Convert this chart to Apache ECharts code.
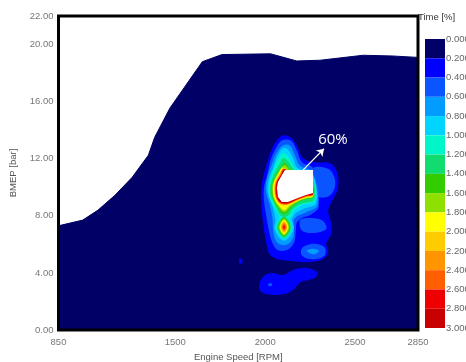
<!DOCTYPE html>
<html>
<head>
<meta charset="utf-8">
<script src="https://cdn.jsdelivr.net/npm/echarts@6/dist/echarts.min.js"></script>
<style>
  html, body { margin: 0; padding: 0; background: #fff; }
  #chart { width: 466px; height: 362px; }
</style>
</head>
<body>
<div id="chart"></div>
<script>
// axis ticks
const xTicks = [850, 1500, 2000, 2500, 2850];
const yTicks = [0, 4, 8, 12, 16, 20, 22];

// colour scale, Time [%]
const levels = [0, 0.2, 0.4, 0.6, 0.8, 1.0, 1.2, 1.4, 1.6, 1.8, 2.0, 2.2, 2.4, 2.6, 2.8, 3.0];
const levelColors = ['#000066', '#0000ff', '#0a55ff', '#009cff', '#00d4ff', '#00f5c8', '#10dc70',
  '#33cc00', '#8ee000', '#ffff00', '#ffcc00', '#ff9500', '#ff5f00', '#ee0000', '#c80000'];

// full load curve (upper limit of the map) [rpm, bar]
const fullLoad = [[850, 7.3], [985, 7.7], [1070, 8.4], [1165, 9.45], [1260, 10.7], [1350, 12.25],
  [1385, 13.5], [1470, 15.55], [1650, 18.8], [1760, 19.3], [2030, 19.35], [2175, 18.85],
  [2305, 18.9], [2545, 19.25], [2705, 19.2], [2850, 19.1]];

// contour outlines [rpm, bar]
const c02Main = [[2090, 13.6], [2140, 13.5], [2175, 12.95], [2210, 12.05], [2275, 11.75], [2360, 11.7],
  [2400, 11.05], [2405, 9.95], [2375, 9.1], [2350, 8.4], [2365, 7.55], [2365, 6.65], [2340, 6.1],
  [2350, 5.4], [2310, 4.9], [2220, 4.75], [2140, 4.85], [2070, 4.95], [2025, 5.3], [2005, 6.15],
  [1990, 7.35], [1978, 8.75], [1978, 9.95], [1990, 10.85], [2015, 11.9], [2045, 12.9]];
const c02Low = [[1970, 3.35], [2000, 3.85], [2040, 4.0], [2100, 3.85], [2155, 4.2], [2230, 4.35],
  [2290, 4.05], [2275, 3.65], [2195, 3.35], [2155, 2.8], [2100, 2.5], [2010, 2.5], [1970, 2.8]];
const c02Dot = [[1855, 5.0], [1870, 4.95], [1872, 4.7], [1857, 4.65]];
const c04Main = [[2095, 13.3], [2145, 13.25], [2175, 12.6], [2205, 11.75], [2265, 11.35], [2298, 8.65],
  [2250, 8.05], [2205, 7.85], [2175, 7.5], [2170, 6.85], [2160, 6.1], [2120, 5.6], [2070, 5.6],
  [2040, 6.1], [2020, 7.0], [2005, 8.05], [1993, 9.1], [1993, 9.95], [2010, 10.8], [2030, 11.9], [2060, 12.75]];
const c04LobeA = [[2266, 11.3], [2350, 11.3], [2385, 10.7], [2385, 9.9], [2350, 9.35], [2290, 9.4]];
const c04LobeB = [[2195, 7.7], [2260, 7.85], [2320, 7.65], [2340, 7.1], [2275, 6.8], [2205, 6.95]];
const c04LobeC = [[2205, 5.75], [2270, 6.05], [2330, 5.8], [2330, 5.2], [2265, 4.95], [2205, 5.2]];
const c04Low = [[2015, 3.2], [2030, 3.3], [2040, 3.15], [2025, 3.05]];
const c06Main = [[2100, 12.95], [2140, 12.9], [2165, 12.25], [2195, 11.5], [2262, 11.05], [2292, 8.75],
  [2230, 8.25], [2175, 7.95], [2155, 7.55], [2160, 6.65], [2140, 6.15], [2105, 5.95], [2065, 6.15],
  [2045, 6.85], [2040, 7.85], [2025, 8.75], [2005, 9.65], [2007, 10.5], [2035, 11.55], [2065, 12.45]];
const c06LobeC = [[2230, 5.55], [2265, 5.7], [2300, 5.55], [2270, 5.3]];
const c08Main = [[2100, 12.75], [2130, 12.6], [2155, 12.05], [2180, 11.35], [2262, 10.95], [2284, 8.9],
  [2215, 8.5], [2165, 8.15], [2145, 7.6], [2145, 7.1], [2130, 6.5], [2105, 6.3], [2075, 6.5],
  [2060, 7.1], [2055, 7.85], [2040, 8.7], [2015, 9.6], [2017, 10.45], [2045, 11.4], [2070, 12.25]];
const c08Sec = [[2105, 8.2], [2160, 7.2], [2105, 6.25], [2050, 7.2]];
const c10Main = [[2099, 12.4], [2126, 12.19], [2149, 11.7], [2177, 11.21], [2255, 10.79], [2278, 9.05],
  [2205, 8.76], [2160, 8.34], [2143, 7.92], [2115, 7.71], [2088, 7.85], [2065, 8.27], [2043, 8.76],
  [2022, 9.39], [2022, 10.16], [2035, 10.79], [2054, 11.49], [2076, 12.05]];
const c10Sec = [[2105, 8.05], [2150, 7.2], [2105, 6.4], [2060, 7.2]];
const c12Main = [[2099, 12.05], [2126, 11.84], [2149, 11.42], [2171, 11.14], [2255, 10.79], [2272, 9.15],
  [2193, 8.83], [2149, 8.41], [2132, 8.06], [2104, 7.92], [2082, 8.06], [2065, 8.48], [2049, 8.9],
  [2028, 9.46], [2028, 10.09], [2040, 10.65], [2060, 11.21], [2082, 11.7]];
const c12Sec = [[2105, 7.95], [2145, 7.2], [2105, 6.45], [2065, 7.2]];
const c14Rim = [[2266, 9.32], [2227, 9.18], [2182, 8.97], [2143, 8.55], [2110, 8.13], [2082, 8.34],
  [2044, 9.17], [2036, 9.95], [2042, 10.37], [2070, 11.04], [2092, 11.43], [2110, 11.7], [2165, 10.79], [2249, 10.51]];
const c14Sec = [[2105, 7.88], [2138, 7.2], [2105, 6.57], [2071, 7.2]];
const c16Rim = [[2266, 9.35], [2227, 9.21], [2182, 9.0], [2138, 8.62], [2110, 8.27], [2085, 8.44],
  [2048, 9.19], [2039, 9.95], [2045, 10.37], [2072, 11.03], [2094, 11.41], [2110, 11.56], [2165, 10.79], [2249, 10.51]];
const c16Sec = [[2105, 7.8], [2133, 7.2], [2105, 6.63], [2076, 7.2]];
const c18Rim = [[2266, 9.39], [2227, 9.25], [2182, 9.04], [2132, 8.69], [2110, 8.41], [2088, 8.55],
  [2051, 9.21], [2043, 9.95], [2049, 10.37], [2076, 11.0], [2097, 11.38], [2165, 10.79], [2249, 10.51]];
const c18Sec = [[2105, 7.72], [2128, 7.2], [2105, 6.72], [2081, 7.2]];
const c20Sec = [[2105, 7.64], [2124, 7.2], [2105, 6.8], [2086, 7.2]];
const c20Rim = [[2266, 9.44], [2227, 9.3], [2182, 9.09], [2126, 8.74], [2082, 8.81], [2057, 9.24],
  [2050, 9.95], [2056, 10.37], [2081, 10.96], [2101, 11.33], [2165, 10.79], [2249, 10.51]];
const c22Rim = [[2266, 9.47], [2227, 9.33], [2182, 9.12], [2126, 8.79], [2084, 8.84], [2059, 9.26],
  [2053, 9.95], [2058, 10.37], [2083, 10.94], [2102, 11.31], [2165, 10.79], [2249, 10.51]];
const c22Sec = [[2105, 7.56], [2120, 7.2], [2105, 6.88], [2090, 7.2]];
const c24Rim = [[2266, 9.49], [2227, 9.35], [2182, 9.14], [2126, 8.83], [2086, 8.87], [2062, 9.27],
  [2055, 9.95], [2061, 10.37], [2086, 10.92], [2104, 11.29], [2165, 10.79], [2249, 10.51]];
const c24Sec = [[2105, 7.46], [2116, 7.2], [2105, 6.96], [2094, 7.2]];
const c26Rim = [[2266, 9.52], [2227, 9.38], [2182, 9.17], [2126, 8.87], [2088, 8.9], [2064, 9.28],
  [2058, 9.95], [2064, 10.37], [2088, 10.9], [2106, 11.27], [2165, 10.79], [2249, 10.51]];
const c26Sec = [[2105, 7.34], [2110, 7.2], [2105, 7.08], [2100, 7.2]];
const c28Rim = [[2266, 9.56], [2227, 9.42], [2182, 9.21], [2126, 8.91], [2090, 8.93], [2068, 9.3],
  [2062, 9.95], [2067, 10.37], [2090, 10.88], [2108, 11.24], [2165, 10.79], [2249, 10.51]];
// the 60 % operating point, above the scale -> white
const peak60 = [[2110, 11.21], [2266, 11.21], [2266, 9.6], [2227, 9.46], [2182, 9.25], [2126, 8.97],
  [2093, 8.97], [2071, 9.32], [2065, 9.95], [2071, 10.37], [2093, 10.86]];

const peakValue = 60;
const arrowFrom = [2210, 11.2];
const arrowTo = [2327, 12.7];
const peakLabelAt = [2377, 13.3];

const contours = [
  [0.2, c02Main], [0.2, c02Low], [0.2, c02Dot],
  [0.4, c04Main], [0.4, c04LobeA], [0.4, c04LobeB], [0.4, c04LobeC], [0.4, c04Low],
  [0.6, c06Main], [0.6, c06LobeC],
  [0.8, c08Main], [0.8, c08Sec],
  [1.0, c10Main], [1.0, c10Sec],
  [1.2, c12Main], [1.2, c12Sec],
  [1.4, c14Rim], [1.4, c14Sec],
  [1.6, c16Rim], [1.6, c16Sec],
  [1.8, c18Rim], [1.8, c18Sec],
  [2.0, c20Rim], [2.0, c20Sec],
  [2.2, c22Rim], [2.2, c22Sec],
  [2.4, c24Rim], [2.4, c24Sec],
  [2.6, c26Rim], [2.6, c26Sec],
  [2.8, c28Rim],
  [peakValue, peak60]
];

const colorOf = (lvl) => lvl >= 3 ? '#ffffff' : levelColors[Math.round(lvl / 0.2)];

const font = 'Liberation Sans, Arial, sans-serif';
const chart = echarts.init(document.getElementById('chart'));

chart.setOption({
  animation: false,
  title: {
    text: 'Time [%]',
    left: 418,
    top: 12,
    padding: 0,
    textStyle: { fontSize: 9.5, fontWeight: 'normal', color: '#333', fontFamily: font }
  },
  grid: [
    {
      left: 58.5, right: 48, top: 16, bottom: 32,
      outerBoundsMode: 'none',
      show: true, z: 10,
      backgroundColor: 'transparent',
      borderColor: '#000', borderWidth: 3
    },
    { left: 425, right: 21, top: 39, bottom: 34, outerBoundsMode: 'none' }
  ],
  xAxis: [
    {
      type: 'value', min: 850, max: 2850,
      name: 'Engine Speed [RPM]', nameLocation: 'middle', nameGap: 22,
      nameTextStyle: { fontSize: 9.5, color: '#555', fontFamily: font },
      axisLine: { show: false }, axisTick: { show: false }, splitLine: { show: false },
      axisLabel: {
        customValues: xTicks, fontSize: 9.5, color: '#777', margin: 7, fontFamily: font,
        formatter: (v) => String(v)
      }
    },
    { gridIndex: 1, type: 'value', min: 0, max: 1, show: false }
  ],
  yAxis: [
    {
      type: 'value', min: 0, max: 22,
      name: 'BMEP [bar]', nameLocation: 'middle', nameGap: 31,
      nameTextStyle: { fontSize: 9.5, color: '#555', fontFamily: font },
      axisLine: { show: false }, axisTick: { show: false }, splitLine: { show: false },
      axisLabel: {
        customValues: yTicks, fontSize: 9.5, color: '#777', margin: 5, fontFamily: font,
        formatter: (v) => v.toFixed(2)
      }
    },
    {
      gridIndex: 1, type: 'value', min: 0, max: 3, interval: 0.2, inverse: true, position: 'right',
      axisLine: { show: false }, axisTick: { show: false }, splitLine: { show: false },
      axisLabel: {
        fontSize: 9.5, color: '#666', margin: 1, fontFamily: font, padding: [7, 0, 0, 0],
        formatter: (v) => v.toFixed(3)
      }
    }
  ],
  series: [
    {
      type: 'line',
      data: fullLoad,
      symbol: 'none',
      lineStyle: { color: levelColors[0], width: 1 },
      areaStyle: { color: levelColors[0], opacity: 1 },
      z: 1
    },
    {
      type: 'custom',
      data: contours.map((c) => c[1][0]),
      encode: { x: 0, y: 1 },
      z: 3,
      renderItem: (params, api) => {
        const c = contours[params.dataIndex];
        return {
          type: 'polygon',
          shape: { points: c[1].map((p) => api.coord(p)), smooth: c[0] >= 3 ? 0 : 0.35 },
          style: { fill: colorOf(c[0]) }
        };
      },
      markLine: {
        silent: true,
        symbol: ['none', 'arrow'],
        symbolSize: 7,
        lineStyle: { color: '#fff', width: 1.2, type: 'solid' },
        label: { show: false },
        data: [[{ coord: arrowFrom }, { coord: arrowTo }]]
      },
      markPoint: {
        silent: true,
        symbol: 'circle',
        symbolSize: 0,
        label: {
          show: true, position: 'inside', formatter: peakValue + '%',
          color: '#fff', fontSize: 15, fontFamily: 'Open Sans, sans-serif'
        },
        data: [{ coord: peakLabelAt }]
      }
    },
    {
      type: 'custom',
      xAxisIndex: 1,
      yAxisIndex: 1,
      data: levelColors.map((c, i) => [0, levels[i], levels[i + 1]]),
      encode: { x: 0, y: 1 },
      renderItem: (params, api) => {
        const p0 = api.coord([0, api.value(1)]);
        const p1 = api.coord([1, api.value(2)]);
        return {
          type: 'rect',
          shape: { x: p0[0], y: Math.min(p0[1], p1[1]), width: p1[0] - p0[0], height: Math.abs(p1[1] - p0[1]) },
          style: { fill: levelColors[params.dataIndex] }
        };
      }
    }
  ]
});
</script>
</body>
</html>
